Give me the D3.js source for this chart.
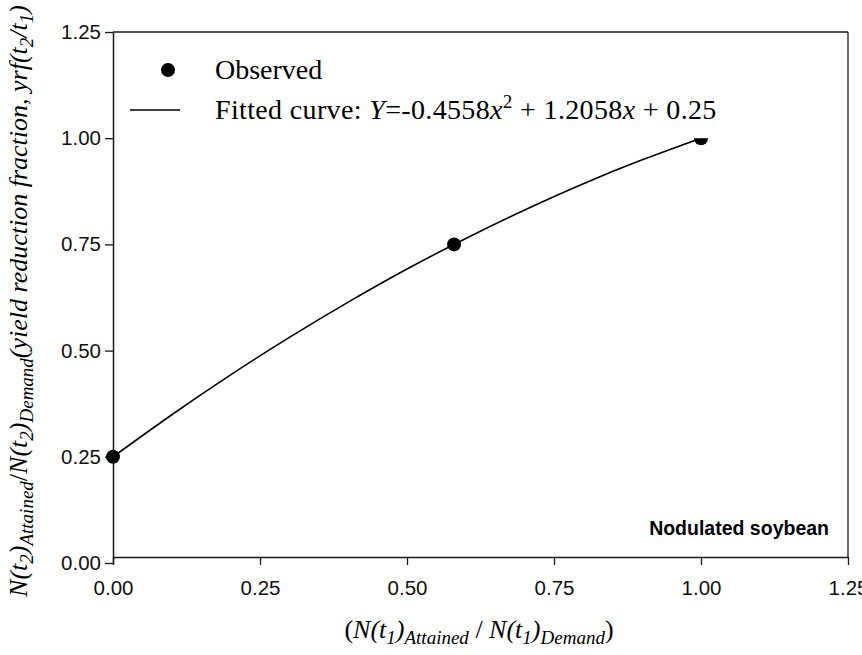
<!DOCTYPE html>
<html><head><meta charset="utf-8">
<script src="https://cdn.jsdelivr.net/npm/d3@7"></script>
<style>body{margin:0;background:#fff}svg{display:block}</style>
</head><body><svg id="c" width="862" height="655"></svg>
<script>
const obsX = [0.0, 0.58, 1.0];
const obsY = [0.25, 0.75, 1.0];
const curveX = [0.0, 0.1, 0.2, 0.3, 0.4, 0.5, 0.6, 0.7, 0.8, 0.9, 1.0];
const curveY = [0.25, 0.349, 0.443, 0.531, 0.614, 0.692, 0.764, 0.831, 0.893, 0.949, 1.0];
const xTicks = [0, 0.25, 0.5, 0.75, 1.0, 1.25];
const yTicks = [0, 0.25, 0.5, 0.75, 1.0, 1.25];

const svg = d3.select("#c");
const L = 113, R = 848, T = 32, B = 563, XAX = 557;
const x = d3.scaleLinear().domain([0, 1.25]).range([L, R]);
const y = d3.scaleLinear().domain([0, 1.25]).range([B, T]);
const ink = "#1a1a1a";
const sans = "Liberation Sans, Arial, sans-serif";
const serif = "Liberation Serif, Times New Roman, serif";

// frame (top and right)
svg.append("line").attr("x1", L).attr("x2", R).attr("y1", T).attr("y2", T).attr("stroke", ink).attr("stroke-width", 1.3);
svg.append("line").attr("x1", R).attr("x2", R).attr("y1", T).attr("y2", XAX).attr("stroke", ink).attr("stroke-width", 1.3);

// y axis
const ya = svg.append("g").attr("transform", `translate(${L},0)`)
  .call(d3.axisLeft(y).tickValues(yTicks).tickFormat(d3.format(".2f")).tickSize(8).tickSizeOuter(0));
ya.select(".domain").attr("stroke", ink).attr("stroke-width", 1.5);
ya.selectAll(".tick line").attr("stroke", ink).attr("stroke-width", 1.3);
ya.selectAll(".tick text").attr("font-family", sans).attr("font-size", 20.5).attr("fill", "#111").attr("x", -12);

// x axis
const xa = svg.append("g").attr("transform", `translate(0,${XAX})`)
  .call(d3.axisBottom(x).tickValues(xTicks).tickFormat(d3.format(".2f")).tickSize(8).tickSizeOuter(0));
xa.select(".domain").attr("stroke", ink).attr("stroke-width", 1.5);
xa.selectAll(".tick line").attr("stroke", ink).attr("stroke-width", 1.3);
xa.selectAll(".tick text").attr("font-family", sans).attr("font-size", 20.5).attr("fill", "#111").attr("dy", "1.3em");

// fitted curve
const pts = curveX.map((d, i) => [d, curveY[i]]);
svg.append("path").datum(pts)
  .attr("d", d3.line().x(d => x(d[0])).y(d => y(d[1])).curve(d3.curveNatural))
  .attr("fill", "none").attr("stroke", "#000").attr("stroke-width", 1.6);

// observed points
svg.selectAll("circle.obs").data(obsX.map((d, i) => [d, obsY[i]])).enter()
  .append("circle").attr("class", "obs")
  .attr("cx", d => x(d[0])).attr("cy", d => y(d[1])).attr("r", 7).attr("fill", "#000");

// legend (white background clips the top point as in the original)
svg.append("rect").attr("x", L + 2).attr("y", T + 2).attr("width", 640).attr("height", y(1.0) - T - 2).attr("fill", "#fff");
svg.append("circle").attr("cx", 168).attr("cy", 70).attr("r", 7).attr("fill", "#000");
svg.append("text").attr("x", 215).attr("y", 79).attr("font-family", serif).attr("font-size", 28).text("Observed");
svg.append("line").attr("x1", 130).attr("x2", 180).attr("y1", 110).attr("y2", 110).attr("stroke", "#000").attr("stroke-width", 1.3);
const lt = svg.append("text").attr("x", 215).attr("y", 119).attr("font-family", serif).attr("font-size", 28).attr("letter-spacing", 0.35);
lt.append("tspan").text("Fitted curve: ");
lt.append("tspan").attr("font-style", "italic").text("Y");
lt.append("tspan").text("=-0.4558");
lt.append("tspan").attr("font-style", "italic").text("x");
lt.append("tspan").attr("font-size", 19).attr("dy", -11).text("2");
lt.append("tspan").attr("dy", 11).text(" + 1.2058");
lt.append("tspan").attr("font-style", "italic").text("x");
lt.append("tspan").text(" + 0.25");

// panel label
svg.append("text").attr("x", 829).attr("y", 535).attr("text-anchor", "end")
  .attr("font-family", sans).attr("font-weight", "bold").attr("font-size", 19.5).text("Nodulated soybean");

// x-axis title
const xt = svg.append("text").attr("x", 479).attr("y", 638).attr("text-anchor", "middle").attr("font-family", serif).attr("font-size", 26);
xt.append("tspan").text("(");
xt.append("tspan").attr("font-style", "italic").text("N(t");
xt.append("tspan").attr("font-style", "italic").attr("font-size", 19).attr("dy", 6).text("1");
xt.append("tspan").attr("font-style", "italic").attr("dy", -6).text(")");
xt.append("tspan").attr("font-style", "italic").attr("font-size", 19).attr("dy", 6).text("Attained");
xt.append("tspan").attr("dy", -6).text(" / ");
xt.append("tspan").attr("font-style", "italic").text("N(t");
xt.append("tspan").attr("font-style", "italic").attr("font-size", 19).attr("dy", 6).text("1");
xt.append("tspan").attr("font-style", "italic").attr("dy", -6).text(")");
xt.append("tspan").attr("font-style", "italic").attr("font-size", 19).attr("dy", 6).text("Demand");
xt.append("tspan").attr("dy", -6).text(")");

// y-axis title
const yt = svg.append("text").attr("transform", "translate(27,301) rotate(-90)").attr("text-anchor", "middle")
  .attr("font-family", serif).attr("font-size", 26).attr("font-style", "italic");
yt.append("tspan").text("N(t");
yt.append("tspan").attr("font-size", 19).attr("dy", 6).text("2");
yt.append("tspan").attr("dy", -6).text(")");
yt.append("tspan").attr("font-size", 19).attr("dy", 6).text("Attained");
yt.append("tspan").attr("dy", -6).attr("font-style", "normal").text("/");
yt.append("tspan").text("N(t");
yt.append("tspan").attr("font-size", 19).attr("dy", 6).text("2");
yt.append("tspan").attr("dy", -6).text(")");
yt.append("tspan").attr("font-size", 19).attr("dy", 6).text("Demand");
yt.append("tspan").attr("dy", -6).text("(yield reduction fraction, yrf(t");
yt.append("tspan").attr("font-size", 19).attr("dy", 6).text("2");
yt.append("tspan").attr("dy", -6).text("/t");
yt.append("tspan").attr("font-size", 19).attr("dy", 6).text("1");
yt.append("tspan").attr("dy", -6).text(")");
</script></body></html>
